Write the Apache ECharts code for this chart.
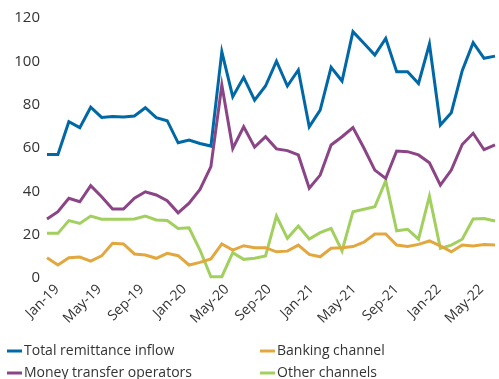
<!DOCTYPE html>
<html>
<head>
<meta charset="utf-8">
<script src="https://cdn.jsdelivr.net/npm/echarts@6/dist/echarts.min.js"></script>
<style>html,body{margin:0;padding:0;background:#fff;}#c{width:499px;height:379px;}</style>
</head>
<body>
<div id="c"></div>
<script>
var months = ['Jan-19','Feb-19','Mar-19','Apr-19','May-19','Jun-19','Jul-19','Aug-19','Sep-19','Oct-19','Nov-19','Dec-19',
  'Jan-20','Feb-20','Mar-20','Apr-20','May-20','Jun-20','Jul-20','Aug-20','Sep-20','Oct-20','Nov-20','Dec-20',
  'Jan-21','Feb-21','Mar-21','Apr-21','May-21','Jun-21','Jul-21','Aug-21','Sep-21','Oct-21','Nov-21','Dec-21',
  'Jan-22','Feb-22','Mar-22','Apr-22','May-22','Jun-22'];
var total = [57,57,72.1,69.4,78.8,74.1,74.5,74.3,74.8,78.6,74,72.6,62.4,63.7,62.1,60.9,104.4,83.7,92.6,82.1,88.6,100.1,88.6,96,69.8,77.5,97.2,90.9,113.7,108.3,102.9,110.6,95.2,95.2,89.8,108,70.6,76.3,95.7,108.6,101.4,102.4];
var mto = [27.2,30.6,36.8,35.2,42.6,37.5,31.8,31.8,36.8,39.8,38.3,35.7,30.1,34.5,40.9,51.4,89.1,59.8,69.8,60.4,65.2,59.6,58.8,56.8,41.4,47.5,61.4,65.2,69.4,60,49.8,46,58.6,58.3,56.8,53.2,42.9,49.8,61.6,66.8,59.2,61.4];
var banking = [9.4,6,9.4,9.7,7.8,10.2,16,15.7,11.1,10.6,9.1,11.4,10.3,6,7.2,8.8,15.7,12.9,14.9,14,14,12.1,12.4,15.2,10.9,9.8,13.7,14,14.5,16.5,20.3,20.3,15.2,14.5,15.5,17.1,14.8,12.1,15.2,14.8,15.5,15.2];
var other = [20.6,20.6,26.5,25.2,28.6,27.1,27.1,27.1,27.2,28.6,26.8,26.5,22.9,23.2,12.9,0.6,0.6,11.7,8.6,9.1,10.2,28.6,18.3,24,18,20.9,22.9,12.5,30.6,31.7,32.9,44.9,21.8,22.5,17.9,37.8,13.7,15.2,17.9,27.2,27.5,26.3];
var yTicks = [0,20,40,60,80,100,120];

var FONT = '"Open Sans", "Noto Sans", sans-serif';
var C_TOTAL = '#0068a6', C_MTO = '#8b4587', C_BANK = '#e2a83f', C_OTHER = '#a2d05e';

function line(name, data, color, z) {
  return {name: name, type: 'line', data: data, symbol: 'none', smooth: false, z: z,
    xAxisIndex: 0, yAxisIndex: 0,
    lineStyle: {color: color, width: 3, join: 'miter'}, itemStyle: {color: color}};
}
function leg(name, left, top) {
  return {left: left, top: top, padding: 0, orient: 'horizontal', data: [name],
    itemWidth: 15, itemHeight: 3, icon: 'rect',
    textStyle: {fontFamily: FONT, fontSize: 14, color: '#333', padding: [0, 0, 0, -3]}};
}

var chart = echarts.init(document.getElementById('c'), null, {renderer: 'canvas'});
chart.setOption({
  animation: false,
  backgroundColor: '#fff',
  grid: [
    {left: 47, right: 4, top: 18, bottom: 101, containLabel: false},
    {left: 57, right: 7, top: 18, bottom: 101, containLabel: false}
  ],
  legend: [
    leg('Total remittance inflow', 7, 344),
    leg('Banking channel', 260, 344),
    leg('Money transfer operators', 7, 366),
    leg('Other channels', 260, 366)
  ],
  xAxis: [{
    gridIndex: 0, type: 'category', data: months, boundaryGap: false,
    axisLine: {show: false}, axisTick: {show: false}, splitLine: {show: false},
    axisLabel: {show: false}
  }, {
    gridIndex: 1, type: 'category', data: months, boundaryGap: false,
    axisLine: {show: false}, axisTick: {show: false}, splitLine: {show: false},
    axisLabel: {interval: 3, rotate: 45, margin: 9, fontFamily: FONT, fontSize: 14, color: '#333'}
  }],
  yAxis: [{
    gridIndex: 0, type: 'value', min: yTicks[0], max: yTicks[yTicks.length - 1], interval: 20,
    axisLine: {show: false}, axisTick: {show: false}, splitLine: {show: false},
    axisLabel: {margin: 7, fontFamily: FONT, fontSize: 15, color: '#333'}
  }, {
    gridIndex: 1, type: 'value', min: 0, max: 120, interval: 20, show: false
  }],
  series: [
    line('Other channels', other, C_OTHER, 2),
    line('Banking channel', banking, C_BANK, 3),
    line('Money transfer operators', mto, C_MTO, 4),
    line('Total remittance inflow', total, C_TOTAL, 5)
  ]
});
</script>
</body>
</html>
